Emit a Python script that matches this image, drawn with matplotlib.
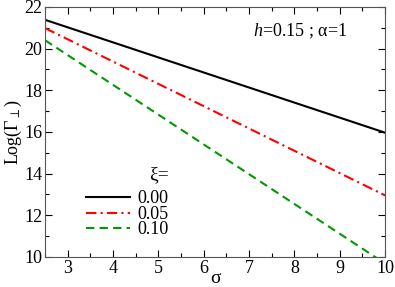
import matplotlib
matplotlib.use("Agg")
import matplotlib.pyplot as plt
from matplotlib.ticker import MultipleLocator

sigma = [2.5, 10.0]
log_gamma_000 = [21.38, 15.96]
log_gamma_005 = [20.98, 12.95]
log_gamma_010 = [20.40, 9.68]
xi_labels = ["0.00", "0.05", "0.10"]

plt.rcParams["font.family"] = ["Liberation Serif", "DejaVu Serif"]
plt.rcParams["mathtext.fontset"] = "custom"
plt.rcParams["mathtext.rm"] = "Liberation Serif"
plt.rcParams["mathtext.it"] = "Liberation Serif:italic"

fig = plt.figure(figsize=(3.95, 2.87), dpi=100)
ax = fig.add_axes([0.114, 0.105, 0.861, 0.871])

ax.plot(sigma, log_gamma_000, color="black", lw=1.5, label=xi_labels[0])
ax.plot(sigma, log_gamma_005, color="red", lw=1.5, dashes=(5, 2, 1, 2), label=xi_labels[1])
ax.plot(sigma, log_gamma_010, color="#009900", lw=1.5, dashes=(4, 2.5), label=xi_labels[2])

ax.set_xlim(2.5, 10)
ax.set_ylim(10, 22)
ax.xaxis.set_major_locator(MultipleLocator(1))
ax.xaxis.set_minor_locator(MultipleLocator(0.5))
ax.yaxis.set_major_locator(MultipleLocator(2))
ax.yaxis.set_minor_locator(MultipleLocator(1))
ax.tick_params(which="both", direction="in", top=True, right=True, labelsize=13)
ax.tick_params(which="major", length=5, width=0.8, pad=2)
ax.tick_params(which="minor", length=3, width=0.8)
for s in ax.spines.values():
    s.set_color("#555555")

ax.set_xlabel("σ", fontsize=14, labelpad=-5)
ax.set_ylabel(r"Log($\Gamma_{\perp}$)", fontsize=13, labelpad=0)

ax.text(0.89, 0.90, r"$\mathit{h}$=$\mathit{0.15}$ ; α=1", transform=ax.transAxes,
        ha="right", va="center", fontsize=13)

leg = ax.legend(title="ξ=", loc="lower left", bbox_to_anchor=(0.10, 0.045),
                frameon=False, fontsize=13, title_fontsize=14,
                handlelength=2.4, handletextpad=0.45, labelspacing=-0.08,
                borderaxespad=0)
leg._legend_box.align = "right"
leg._legend_box.sep = 5

fig.savefig("out.png", dpi=100)
